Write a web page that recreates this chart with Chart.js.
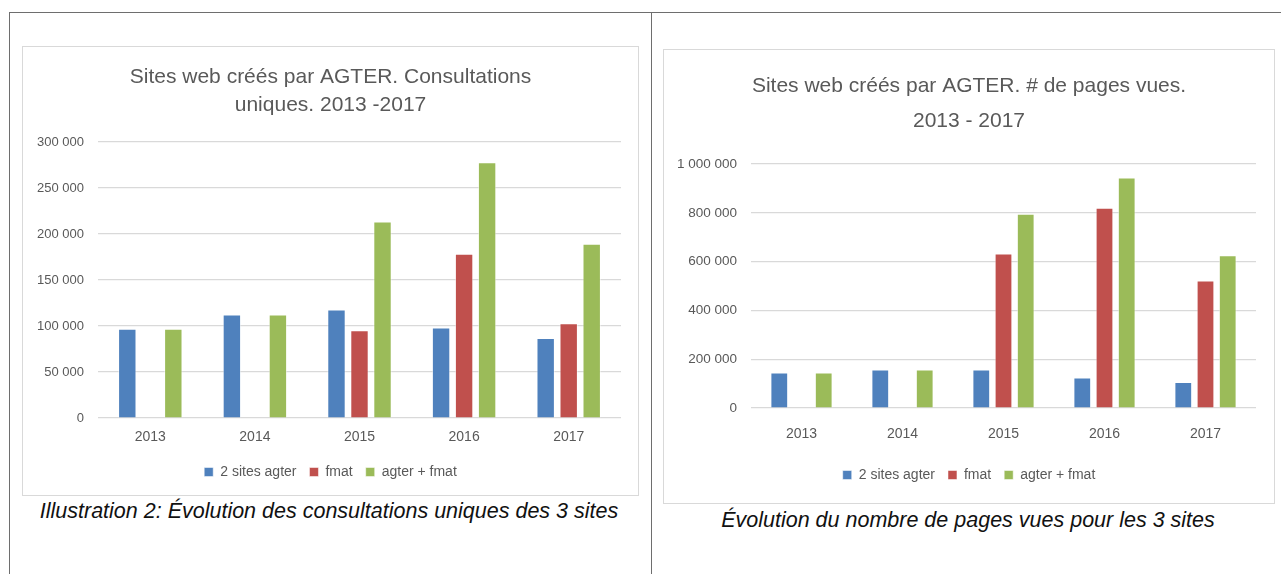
<!DOCTYPE html>
<html>
<head>
<meta charset="utf-8">
<script src="https://cdn.jsdelivr.net/npm/chart.js@4.4.0/dist/chart.umd.min.js"></script>
<style>
  html, body { margin: 0; padding: 0; background: #fff; }
  body { width: 1281px; height: 574px; position: relative; overflow: hidden; font-family: 'Liberation Sans', Arial, sans-serif; }
  .rule { position: absolute; background: #6e6e6e; }
  .box { position: absolute; border: 1px solid #d9d9d9; box-sizing: border-box; }
  .caption { position: absolute; font-style: italic; font-size: 21.5px; line-height: 24px; color: #111; text-align: center; white-space: nowrap; }
</style>
</head>
<body>
<div class="rule" style="left:9px; top:12px; width:1272px; height:1px;"></div>
<div class="rule" style="left:9px; top:12px; width:1px; height:562px;"></div>
<div class="rule" style="left:651px; top:12px; width:1px; height:562px;"></div>

<div class="box" style="left:22px; top:46px; width:617px; height:450px;">
  <canvas id="visitsChart"></canvas>
</div>
<div class="caption" style="left:29px; width:600px; top:499px;">Illustration 2: Évolution des consultations uniques des 3 sites</div>

<div class="box" style="left:663px; top:49px; width:612px; height:455px;">
  <canvas id="pagesChart"></canvas>
</div>
<div class="caption" style="left:668px; width:600px; top:508px;">Évolution du nombre de pages vues pour les 3 sites</div>

<script>
const years = ['2013', '2014', '2015', '2016', '2017'];
const seriesNames = ['2 sites agter', 'fmat', 'agter + fmat'];

// consultations uniques
const visitsAgter = [97000, 112500, 118000, 98500, 87000];
const visitsFmat  = [null, null, 95500, 178500, 103000];
const visitsTotal = [97000, 112500, 213500, 278000, 189500];

// pages vues
const pagesAgter = [145000, 157500, 157500, 125000, 107000];
const pagesFmat  = [null, null, 633000, 820500, 523000];
const pagesTotal = [145000, 157500, 796000, 945000, 626000];

const colors = ['#4f81bd', '#c0504d', '#9bbb59'];
const grey = '#595959';
const fontFamily = "'Liberation Sans', Arial, sans-serif";

const fmt = v => String(v).replace(/\B(?=(\d{3})+(?!\d))/g, ' ');

function makeChart(id, title, titleLine, titlePad, series, yMax, yStep, cfg) {
  return new Chart(document.getElementById(id), {
    type: 'bar',
    data: {
      labels: years,
      datasets: series.map((d, i) => ({
        label: seriesNames[i],
        data: d,
        yAxisID: 'y',
        backgroundColor: colors[i],
        borderColor: 'rgba(255,255,255,0.5)',
        borderWidth: 1,
        categoryPercentage: 0.66,
        barPercentage: 0.8,
      }))
    },
    options: {
      responsive: true,
      maintainAspectRatio: false,
      animation: false,
      layout: { padding: { top: 0, left: 0, right: 0, bottom: cfg.padBottom } },
      plugins: {
        title: {
          display: true,
          text: title,
          color: grey,
          font: { family: fontFamily, size: 21, weight: 'normal', lineHeight: titleLine },
          padding: titlePad,
        },
        legend: {
          position: 'bottom',
          labels: {
            color: grey,
            boxWidth: 9,
            boxHeight: 9,
            padding: 13,
            font: { family: fontFamily, size: 14 },
          }
        },
        tooltip: { enabled: false },
      },
      scales: {
        x: {
          grid: { display: false },
          border: { display: false },
          ticks: { color: grey, font: { family: fontFamily, size: 14 }, padding: cfg.xPad },
          afterFit: s => { s.height = cfg.xHeight; },
        },
        y: {
          min: 0,
          max: yMax,
          border: { display: false },
          grid: { color: '#d9d9d9', lineWidth: 1.2, drawTicks: false },
          ticks: { stepSize: yStep, color: grey, padding: cfg.yPad, font: { family: fontFamily, size: cfg.ySize }, callback: v => fmt(v) },
          afterFit: s => { s.width = cfg.yWidth; },
        },
        // empty right margin so the title and legend stay centred on the box
        y2: {
          position: 'right',
          grid: { display: false },
          border: { display: false },
          ticks: { display: false },
          afterFit: s => { s.width = cfg.rightWidth; },
        }
      }
    }
  });
}

makeChart('visitsChart',
  ['Sites web créés par AGTER. Consultations', 'uniques. 2013 -2017'],
  28 / 21, { top: 16, bottom: 23 },
  [visitsAgter, visitsFmat, visitsTotal],
  300000, 50000,
  { yWidth: 75, rightWidth: 17, yPad: 14, ySize: 13, xHeight: 34, xPad: 3, padBottom: 6 });

makeChart('pagesChart',
  ['Sites web créés par AGTER. # de pages vues.', '2013 - 2017'],
  35 / 21, { top: 19, bottom: 25 },
  [pagesAgter, pagesFmat, pagesTotal],
  1000000, 200000,
  { yWidth: 87, rightWidth: 18, yPad: 14, ySize: 13.5, xHeight: 47, xPad: 10, padBottom: 11 });
</script>
</body>
</html>
